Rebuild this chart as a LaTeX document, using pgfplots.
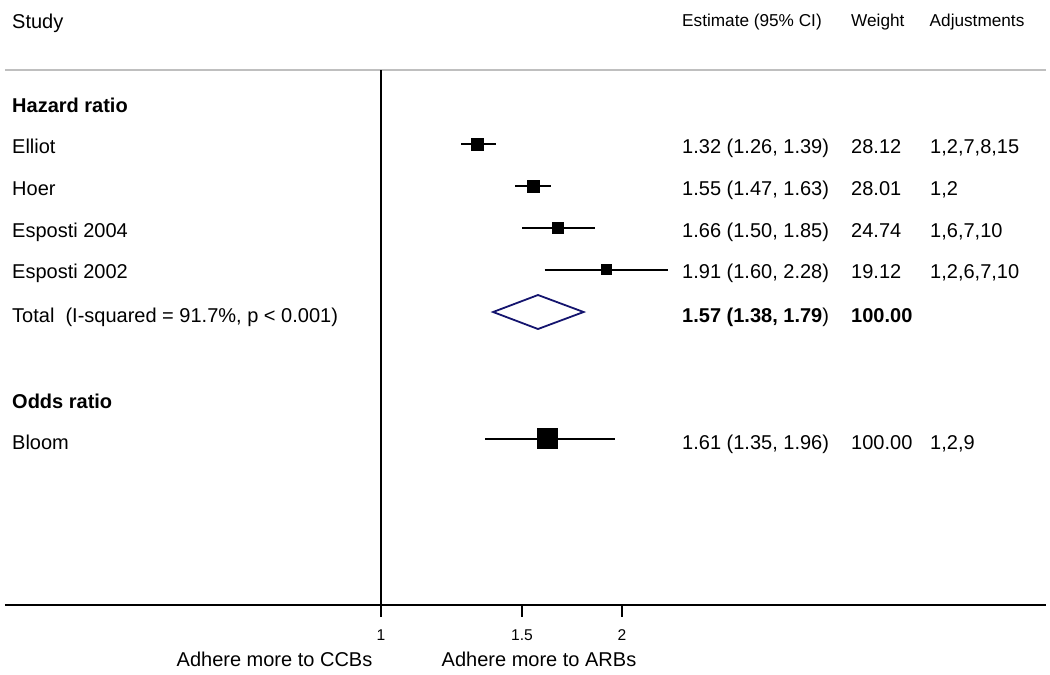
\documentclass[border=0pt]{standalone}
\usepackage{fontspec}
\setmainfont{Liberation Sans}
\usepackage{pgfplots}
\pgfplotsset{compat=1.18}
\definecolor{navyblue}{RGB}{20,20,110}
\newcommand{\bodyfont}{\fontsize{20bp}{24bp}\selectfont}
\newcommand{\headfont}{\fontsize{17.2bp}{21bp}\selectfont}
\newcommand{\tickfont}{\fontsize{15.6bp}{19bp}\selectfont}
\begin{document}
\begin{tikzpicture}
\begin{axis}[width=1050bp, height=674bp, scale only axis,
  xmode=log, xmin=0.3346, xmax=6.8374,
  ymin=0, ymax=674, y dir=reverse,
  axis lines=none, ticks=none, clip=false]
\path (axis cs:0.3346,0) rectangle (axis cs:6.8374,674);
% separator and reference lines
\draw[black!25, line width=2bp] (axis cs:0.3394,70) -- (axis cs:6.76,70);
\draw[black, line width=2bp] (axis cs:1,70) -- (axis cs:1,617);
\draw[black, line width=2bp] (axis cs:0.3394,605) -- (axis cs:6.76,605);
\draw[black, line width=2bp] (axis cs:1.5,605) -- (axis cs:1.5,617);
\draw[black, line width=2bp] (axis cs:2,605) -- (axis cs:2,617);
% confidence intervals
\addplot[black, line width=2bp] coordinates {(1.26,144) (1.39,144)};
\addplot[black, line width=2bp] coordinates {(1.47,186) (1.63,186)};
\addplot[black, line width=2bp] coordinates {(1.50,228) (1.85,228)};
\addplot[black, line width=2bp] coordinates {(1.60,269.5) (2.28,269.5)};
\addplot[black, line width=2bp] coordinates {(1.35,438.5) (1.96,438.5)};
% point estimates
\addplot[only marks, mark=square*, mark size=6bp, black] coordinates {(1.32,144)};
\addplot[only marks, mark=square*, mark size=6bp, black] coordinates {(1.55,186)};
\addplot[only marks, mark=square*, mark size=5.6bp, black] coordinates {(1.66,228)};
\addplot[only marks, mark=square*, mark size=5.1bp, black] coordinates {(1.91,269.5)};
\addplot[only marks, mark=square*, mark size=10bp, black] coordinates {(1.61,438.5)};
% pooled diamond
\addplot[navyblue, line width=1.8bp, line join=miter] coordinates {(1.38,312) (1.57,295) (1.79,312) (1.57,329) (1.38,312) (1.57,295)};
\end{axis}
\begin{scope}[x=1bp, y=-1bp, shift={(0,674bp)}]
\node[anchor=base west, inner sep=0] at (12,29) {\bodyfont Study};
\node[anchor=base west, inner sep=0] at (682,27) {\headfont Estimate (95\% CI)};
\node[anchor=base west, inner sep=0] at (851,27) {\headfont Weight};
\node[anchor=base west, inner sep=0] at (929.5,27) {\headfont Adjustments};
\node[anchor=base west, inner sep=0] at (12,113) {\bodyfont\bfseries Hazard ratio};
\node[anchor=base west, inner sep=0] at (12,154) {\bodyfont Elliot};
\node[anchor=base west, inner sep=0] at (12,196) {\bodyfont Hoer};
\node[anchor=base west, inner sep=0] at (12,238) {\bodyfont Esposti 2004};
\node[anchor=base west, inner sep=0] at (12,279) {\bodyfont Esposti 2002};
\node[anchor=base west, inner sep=0] at (12,322) {\bodyfont Total\ \ (I-squared = 91.7\%, p < 0.001)};
\node[anchor=base west, inner sep=0] at (12,408) {\bodyfont\bfseries Odds ratio};
\node[anchor=base west, inner sep=0] at (12,449) {\bodyfont Bloom};
% estimates
\node[anchor=base west, inner sep=0] at (682,154) {\bodyfont 1.32 (1.26, 1.39)};
\node[anchor=base west, inner sep=0] at (682,196) {\bodyfont 1.55 (1.47, 1.63)};
\node[anchor=base west, inner sep=0] at (682,238) {\bodyfont 1.66 (1.50, 1.85)};
\node[anchor=base west, inner sep=0] at (682,279) {\bodyfont 1.91 (1.60, 2.28)};
\node[anchor=base west, inner sep=0] at (682,322) {\bodyfont\textbf{1.57 (1.38, 1.79})};
\node[anchor=base west, inner sep=0] at (682,449) {\bodyfont 1.61 (1.35, 1.96)};
% weights
\node[anchor=base west, inner sep=0] at (851,154) {\bodyfont 28.12};
\node[anchor=base west, inner sep=0] at (851,196) {\bodyfont 28.01};
\node[anchor=base west, inner sep=0] at (851,238) {\bodyfont 24.74};
\node[anchor=base west, inner sep=0] at (851,279) {\bodyfont 19.12};
\node[anchor=base west, inner sep=0] at (851,322) {\bodyfont\bfseries 100.00};
\node[anchor=base west, inner sep=0] at (851,449) {\bodyfont 100.00};
% adjustments
\node[anchor=base west, inner sep=0] at (930,154) {\bodyfont 1,2,7,8,15};
\node[anchor=base west, inner sep=0] at (930,196) {\bodyfont 1,2};
\node[anchor=base west, inner sep=0] at (930,238) {\bodyfont 1,6,7,10};
\node[anchor=base west, inner sep=0] at (930,279) {\bodyfont 1,2,6,7,10};
\node[anchor=base west, inner sep=0] at (930,449) {\bodyfont 1,2,9};
% axis labels
\node[anchor=base, inner sep=0] at (381,640) {\tickfont 1};
\node[anchor=base, inner sep=0] at (522,640) {\tickfont 1.5};
\node[anchor=base, inner sep=0] at (622,640) {\tickfont 2};
\node[anchor=base, inner sep=0] at (274.5,666) {\bodyfont Adhere more to CCBs};
\node[anchor=base, inner sep=0] at (539,666) {\bodyfont Adhere more to ARBs};
\end{scope}
\end{tikzpicture}
\end{document}
